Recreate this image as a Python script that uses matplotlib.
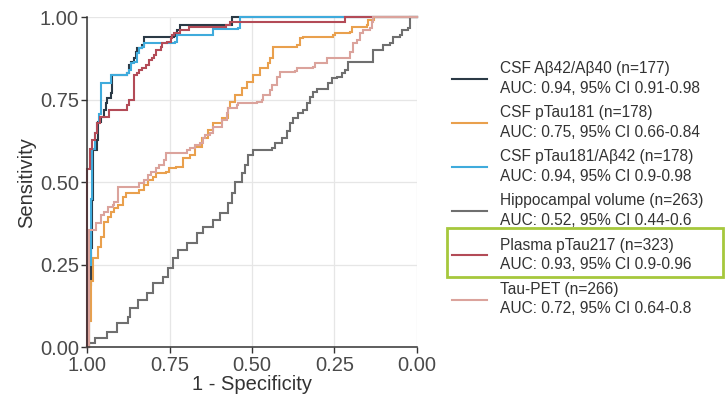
"""
ROC curves for six biomarkers (sensitivity vs specificity, reversed x axis).
"""

import matplotlib
matplotlib.use("Agg")
import matplotlib.pyplot as plt
from matplotlib.patches import Rectangle

plt.rcParams["font.family"] = ["Liberation Sans", "DejaVu Sans"]

# ---------------------------------------------------------------------------
# data: (specificity, sensitivity) step points
# ---------------------------------------------------------------------------

abeta_spec = [1.0, 0.995, 0.99, 0.987, 0.982, 0.972, 0.967, 0.959, 0.949, 0.944,
              0.939, 0.929, 0.924, 0.879, 0.873, 0.868, 0.858, 0.853, 0.848, 0.833,
              0.828, 0.737, 0.732, 0.727, 0.718, 0.562, 0.0]
abeta_sens = [0.0, 0.19, 0.30, 0.446, 0.598, 0.628, 0.684, 0.699, 0.719, 0.739,
              0.755, 0.770, 0.825, 0.832, 0.855, 0.865, 0.876, 0.896, 0.906, 0.916,
              0.941, 0.943, 0.951, 0.962, 0.976, 1.0, 1.0]

ptau181_spec = [1.0, 0.995, 0.99, 0.984, 0.968, 0.958, 0.948, 0.938, 0.928, 0.918,
                0.908, 0.892, 0.882, 0.842, 0.827, 0.817, 0.801, 0.791, 0.761, 0.751,
                0.731, 0.710, 0.688, 0.673, 0.653, 0.633, 0.617, 0.592, 0.572, 0.567,
                0.551, 0.531, 0.516, 0.496, 0.476, 0.450, 0.445, 0.436, 0.364, 0.354,
                0.344, 0.253, 0.248, 0.202, 0.197, 0.152, 0.147, 0.131, 0.0]
ptau181_sens = [0.0, 0.08, 0.20, 0.270, 0.305, 0.335, 0.381, 0.396, 0.411, 0.421,
                0.431, 0.456, 0.467, 0.477, 0.492, 0.507, 0.517, 0.527, 0.532, 0.542,
                0.547, 0.573, 0.583, 0.608, 0.633, 0.658, 0.679, 0.694, 0.724, 0.744,
                0.765, 0.785, 0.805, 0.825, 0.845, 0.861, 0.876, 0.911, 0.916, 0.936,
                0.941, 0.946, 0.951, 0.956, 0.971, 0.977, 0.992, 1.0, 1.0]

ratio_spec = [1.0, 0.997, 0.995, 0.99, 0.985, 0.978, 0.972, 0.964, 0.959, 0.929,
              0.879, 0.873, 0.868, 0.858, 0.848, 0.843, 0.833, 0.828, 0.734, 0.728,
              0.617, 0.541, 0.536, 0.0]
ratio_sens = [0.0, 0.08, 0.25, 0.45, 0.60, 0.65, 0.68, 0.707, 0.80, 0.825,
              0.830, 0.840, 0.861, 0.866, 0.891, 0.906, 0.911, 0.921, 0.926, 0.946,
              0.964, 0.967, 1.0, 1.0]

hippo_spec = [1.0, 0.997, 0.977, 0.941, 0.911, 0.876, 0.870, 0.845, 0.820, 0.800,
              0.769, 0.754, 0.739, 0.724, 0.698, 0.668, 0.648, 0.617, 0.597, 0.572,
              0.562, 0.552, 0.531, 0.521, 0.511, 0.496, 0.440, 0.430, 0.410, 0.395,
              0.385, 0.374, 0.359, 0.344, 0.334, 0.324, 0.314, 0.304, 0.268, 0.258,
              0.243, 0.228, 0.218, 0.208, 0.132, 0.101, 0.081, 0.071, 0.050, 0.045,
              0.025, 0.020, 0.0]
hippo_sens = [0.0, 0.012, 0.027, 0.047, 0.073, 0.093, 0.118, 0.143, 0.164, 0.194,
              0.214, 0.239, 0.270, 0.295, 0.315, 0.345, 0.366, 0.386, 0.406, 0.436,
              0.467, 0.502, 0.527, 0.553, 0.583, 0.598, 0.603, 0.618, 0.633, 0.654,
              0.679, 0.694, 0.709, 0.719, 0.739, 0.760, 0.775, 0.782, 0.800, 0.815,
              0.820, 0.830, 0.840, 0.866, 0.901, 0.916, 0.921, 0.941, 0.946, 0.962,
              0.967, 1.0, 1.0]

plasma_spec = [1.0, 1.0, 0.992, 0.987, 0.977, 0.972, 0.962, 0.934, 0.879, 0.873,
               0.858, 0.848, 0.843, 0.833, 0.823, 0.813, 0.803, 0.797, 0.792, 0.777,
               0.772, 0.757, 0.747, 0.742, 0.737, 0.720, 0.690, 0.580, 0.567, 0.218,
               0.0]
plasma_sens = [0.0, 0.54, 0.60, 0.628, 0.648, 0.679, 0.699, 0.719, 0.734, 0.749,
               0.825, 0.830, 0.840, 0.845, 0.855, 0.871, 0.876, 0.886, 0.901, 0.911,
               0.921, 0.926, 0.936, 0.946, 0.951, 0.962, 0.970, 0.977, 0.987, 1.0,
               1.0]

taupet_spec = [1.0, 0.995, 0.975, 0.958, 0.948, 0.938, 0.923, 0.918, 0.908, 0.842,
               0.827, 0.817, 0.807, 0.791, 0.781, 0.766, 0.761, 0.698, 0.688, 0.673,
               0.658, 0.648, 0.643, 0.627, 0.617, 0.592, 0.577, 0.572, 0.546, 0.541,
               0.486, 0.470, 0.466, 0.445, 0.440, 0.425, 0.415, 0.369, 0.364, 0.314,
               0.309, 0.273, 0.202, 0.192, 0.182, 0.172, 0.162, 0.141, 0.136, 0.132,
               0.0]
taupet_sens = [0.0, 0.356, 0.376, 0.401, 0.411, 0.426, 0.431, 0.441, 0.487, 0.497,
               0.507, 0.522, 0.532, 0.542, 0.552, 0.568, 0.588, 0.598, 0.603, 0.613,
               0.618, 0.633, 0.643, 0.648, 0.668, 0.689, 0.709, 0.724, 0.734, 0.739,
               0.744, 0.749, 0.765, 0.780, 0.795, 0.820, 0.835, 0.838, 0.845, 0.850,
               0.861, 0.876, 0.896, 0.921, 0.931, 0.951, 0.962, 0.967, 0.987, 1.0,
               1.0]

labels = [
    "CSF A\u03b242/A\u03b240 (n=177)\nAUC: 0.94, 95% CI 0.91-0.98",
    "CSF pTau181 (n=178)\nAUC: 0.75, 95% CI 0.66-0.84",
    "CSF pTau181/A\u03b242 (n=178)\nAUC: 0.94, 95% CI 0.9-0.98",
    "Hippocampal volume (n=263)\nAUC: 0.52, 95% CI 0.44-0.6",
    "Plasma pTau217 (n=323)\nAUC: 0.93, 95% CI 0.9-0.96",
    "Tau-PET (n=266)\nAUC: 0.72, 95% CI 0.64-0.8",
]
colors = ["#2b3a46", "#e9a04d", "#3fabdc", "#6f6f6f", "#b34b57", "#dba39c"]

curves = [
    (abeta_spec, abeta_sens),
    (ptau181_spec, ptau181_sens),
    (ratio_spec, ratio_sens),
    (hippo_spec, hippo_sens),
    (plasma_spec, plasma_sens),
    (taupet_spec, taupet_sens),
]

ticks = [1.0, 0.75, 0.5, 0.25, 0.0]
tick_labels = ["1.00", "0.75", "0.50", "0.25", "0.00"]

# ---------------------------------------------------------------------------
# plot
# ---------------------------------------------------------------------------

fig = plt.figure(figsize=(7.25, 3.99), dpi=100)
ax = fig.add_axes([0.1204, 0.1296, 0.4543, 0.8270])

for (spec, sens), color, label in zip(curves, colors, labels):
    ax.step(spec, sens, where="post", color=color, lw=1.5, label=label,
            solid_joinstyle="miter", clip_on=False)

ax.set_xlim(1.0, 0.0)
ax.set_ylim(0.0, 1.0)
ax.set_xticks(ticks)
ax.set_xticklabels(tick_labels)
ax.set_yticks(ticks)
ax.set_yticklabels(tick_labels)
ax.grid(True, color="#e6e6e6", lw=0.9)
ax.set_axisbelow(True)

for side in ["top", "right"]:
    ax.spines[side].set_visible(False)
for side in ["left", "bottom"]:
    ax.spines[side].set_color("#333333")
    ax.spines[side].set_linewidth(1.1)

ax.tick_params(direction="out", length=4, width=1, color="#333333",
               labelsize=14.5, labelcolor="#4a4a4a", pad=2)
ax.set_xlabel("1 - Specificity", fontsize=14.5, color="#333333", labelpad=0)
ax.set_ylabel("Sensitivity", fontsize=14.5, color="#333333", labelpad=3)

leg = ax.legend(loc="center left", bbox_to_anchor=(0.623, 0.527),
                bbox_transform=fig.transFigure, frameon=False, fontsize=11.2,
                handlelength=2.25, handletextpad=0.85, labelspacing=0.6,
                borderpad=0, borderaxespad=0)
for txt in leg.get_texts():
    txt.set_color("#333333")
    txt.set_linespacing(1.4)

# highlight box around the plasma entry
fig.add_artist(Rectangle((0.616, 0.3065), 0.381, 0.1213, transform=fig.transFigure,
                         fill=False, edgecolor="#a6c83c", lw=2.0, clip_on=False))

fig.savefig("out.png", dpi=100)
